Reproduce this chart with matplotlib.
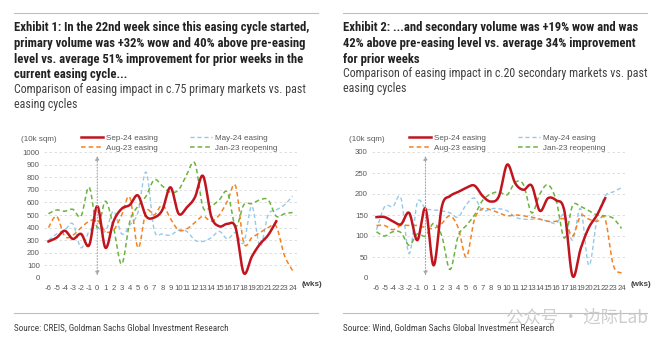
import numpy as np
import matplotlib
matplotlib.use("Agg")
import matplotlib.pyplot as plt
from matplotlib import font_manager

# ---------- data ----------
weeks = list(range(-6, 25))

# primary, 10k sqm
p_sep24 = [290, 320, 375, 310, 350, 260, 570, 240, 450, 550, 580, 655, 490, 480, 540,
           720, 510, 560, 640, 810, 490, 410, 430, 400, 40, 170, 270, 340, 450]
p_may24 = [300, 350, 380, 430, 240, 370, 400, 370, 530, 350, 420, 520, 840, 380, 350, 340,
           380, 370, 300, 290, 320, 370, 310, 360, 280, 570, 250, 500, 540, 580, 650]
p_aug23 = [400, 490, 330, 340, 400, 450, 460, 370, 380, 500, 640, 240, 530, 500, 580, 470,
           380, 390, 440, 490, 450, 500, 610, 730, 280, 320, 360, 400, 410, 180, 60]
p_jan23 = [510, 540, 530, 545, 490, 720, 400, 610, 400, 110, 450, 570, 650, 780, 730, 680,
           700, 820, 910, 560, 570, 620, 680, 410, 580, 590, 620, 620, 490, 510, 520]

# secondary, 10k sqm
s_sep24 = [145, 145, 135, 128, 155, 90, 165, 30, 170, 195, 205, 215, 220, 195, 182,
           195, 270, 225, 210, 220, 160, 190, 185, 160, 5, 70, 120, 150, 190]
s_may24 = [115, 170, 170, 190, 58, 180, 165, 162, 160, 155, 145, 175, 190, 160, 165, 165,
           160, 145, 140, 140, 140, 135, 130, 150, 90, 165, 30, 140, 195, 205, 215]
s_aug23 = [125, 125, 115, 125, 125, 125, 120, 118, 130, 148, 120, 50, 140, 165, 162, 155,
           148, 150, 148, 145, 140, 135, 135, 140, 100, 148, 140, 135, 140, 30, 12]
s_jan23 = [110, 100, 110, 108, 78, 105, 100, 130, 100, 20, 100, 125, 150, 185, 200, 205,
           198, 228, 222, 155, 200, 222, 185, 95, 172, 170, 160, 150, 148, 142, 118]

titles = [
    ["Exhibit 1: In the 22nd week since this easing cycle started,",
     "primary volume was +32% wow and 40% above pre-easing",
     "level vs. average 51% improvement for prior weeks in the",
     "current easing cycle..."],
    ["Exhibit 2: ...and secondary volume was +19% wow and was",
     "42% above pre-easing level vs. average 34% improvement",
     "for prior weeks"],
]
subtitles = [
    ["Comparison of easing impact in c.75 primary markets vs. past", "easing cycles"],
    ["Comparison of easing impact in c.20 secondary markets vs. past", "easing cycles"],
]
sources = [
    "Source: CREIS, Goldman Sachs Global Investment Research",
    "Source: Wind, Goldman Sachs Global Investment Research",
]

# ---------- fonts ----------
names = {f.name for f in font_manager.fontManager.ttflist}
NARROW = "Liberation Sans"
for cand in ["Roboto Condensed", "Liberation Sans Narrow", "Open Sans Condensed"]:
    if cand in names:
        NARROW = cand
        break
plt.rcParams["font.family"] = ["Liberation Sans", "DejaVu Sans"]

RED = "#C0151F"
BLUE = "#94C9EA"
ORANGE = "#F58220"
GREEN = "#6DB33F"
GRID = "#D9D9D9"
TXT = "#595959"
W, H = 660, 341


def smooth(xs, ys, n=16):
    # Excel-like smoothed line (Catmull-Rom as cubic Bezier)
    P = np.column_stack([xs, ys]).astype(float)
    P = np.vstack([P[0], P, P[-1]])
    out = []
    t = np.linspace(0, 1, n, endpoint=False)[:, None]
    for i in range(1, len(P) - 2):
        p0, p1, p2, p3 = P[i - 1], P[i], P[i + 1], P[i + 2]
        c1 = p1 + (p2 - p0) / 6
        c2 = p2 - (p3 - p1) / 6
        seg = ((1 - t) ** 3) * p1 + 3 * ((1 - t) ** 2) * t * c1 + 3 * (1 - t) * t ** 2 * c2 + t ** 3 * p2
        out.append(seg)
    out.append(P[-2][None, :])
    out = np.vstack(out)
    return out[:, 0], out[:, 1]


fig = plt.figure(figsize=(6.6, 3.41), dpi=100)
renderer = fig.canvas.get_renderer()


def fit_lines(x_px, ys_px, lines, target_w, **kw):
    # one text per line (baseline at ys_px); size chosen so the first line spans target_w px
    objs = [fig.text(x_px / W, 1 - y / H, s, ha="left", va="baseline", fontsize=10, **kw)
            for s, y in zip(lines, ys_px)]
    w = objs[0].get_window_extent(renderer).width
    size = 10 * target_w / w
    for o in objs:
        o.set_fontsize(size)
    return objs


panels = [
    dict(x0=14, ax_l=44, ax_r=297, data=(p_sep24, p_may24, p_aug23, p_jan23), ymax=1000, step=100,
         title_w=296, sub_w=290, sub_y=[93, 108], leg_x=81),
    dict(x0=343, ax_l=372, ax_r=626, data=(s_sep24, s_may24, s_aug23, s_jan23), ymax=300, step=50,
         title_w=298, sub_w=301, sub_y=[77, 92], leg_x=409),
]

for k, pn in enumerate(panels):
    x0 = pn["x0"]
    # top rule
    fig.add_artist(plt.Line2D([x0 / W, (x0 + 304) / W], [1 - 13 / H] * 2, color="#BFBFBF", lw=0.8))
    fit_lines(x0, [31.5 + 15.6 * i for i in range(len(titles[k]))], titles[k], pn["title_w"],
              fontweight="bold", family=[NARROW, "DejaVu Sans"], color="#222222")
    fit_lines(x0, pn["sub_y"], subtitles[k], pn["sub_w"],
              family=[NARROW, "DejaVu Sans"], color="#404040")
    # bottom rule + source
    fig.add_artist(plt.Line2D([x0 / W, (x0 + 304) / W], [1 - 313 / H] * 2, color="#BFBFBF", lw=0.8))
    fit_lines(x0, [331], [sources[k]], 214 if k == 0 else 208,
              family=[NARROW, "DejaVu Sans"], color="#404040")

    ax = fig.add_axes([pn["ax_l"] / W, 1 - 278 / H, (pn["ax_r"] - pn["ax_l"]) / W, 126 / H])
    ymax, step = pn["ymax"], pn["step"]
    ax.set_ylim(0, ymax)
    ax.set_xlim(-6.55, 24.55)
    ax.set_yticks(np.arange(0, ymax + 1, step))
    ax.set_xticks(weeks)
    ax.set_xticklabels([str(w) for w in weeks])
    for s in ax.spines.values():
        s.set_visible(False)
    ax.tick_params(length=0, labelsize=5.6, colors=TXT, pad=3)
    ax.tick_params(axis="x", pad=5)
    ax.grid(axis="y", color=GRID, ls=(0, (3, 3)), lw=0.6)
    ax.set_axisbelow(True)

    sep, may, aug, jan = pn["data"]
    hs = {}
    hs["may"], = ax.plot(*smooth(weeks[:len(may)], may), color=BLUE, lw=1.0, ls=(0, (3, 2)))
    hs["aug"], = ax.plot(*smooth(weeks[:len(aug)], aug), color=ORANGE, lw=1.1, ls=(0, (3, 2)))
    hs["jan"], = ax.plot(*smooth(weeks[:len(jan)], jan), color=GREEN, lw=1.1, ls=(0, (3, 2)))
    hs["sep"], = ax.plot(*smooth(weeks[:len(sep)], sep), color=RED, lw=1.8)

    ax.annotate("", xy=(0, ymax * 0.97), xytext=(0, ymax * 0.02),
                arrowprops=dict(arrowstyle="<|-|>", color="#A6A6A6", lw=0.8, ls=":",
                                mutation_scale=6, shrinkA=0, shrinkB=0))

    ax.text(-0.09, 1.10, "(10k sqm)", transform=ax.transAxes, fontsize=5.8, color=TXT, ha="left", va="center")
    ax.text(1.02, -0.055, "(wks)", transform=ax.transAxes, fontsize=5.8, color="#404040",
            fontweight="bold", ha="left", va="center")

    aw = pn["ax_r"] - pn["ax_l"]
    leg = ax.legend([hs["sep"], hs["aug"], hs["may"], hs["jan"]],
                    ["Sep-24 easing", "Aug-23 easing", "May-24 easing", "Jan-23 reopening"],
                    ncol=2, frameon=False, fontsize=5.8, handlelength=2.8, handletextpad=0.3,
                    columnspacing=4.0, labelspacing=0.35, loc="lower left", borderaxespad=0,
                    borderpad=0.2,
                    bbox_to_anchor=((pn["leg_x"] - pn["ax_l"] - 2) / aw, 0.985))
    for t in leg.get_texts():
        t.set_color(TXT)

# watermark
fig.text(506 / W, 1 - 317 / H, "公众号 · 边际Lab", fontsize=12.5, color="#C8C8C8", alpha=0.9,
         family=["Noto Sans CJK SC", "DejaVu Sans"], ha="left", va="center")

fig.savefig("out.png", dpi=100)
